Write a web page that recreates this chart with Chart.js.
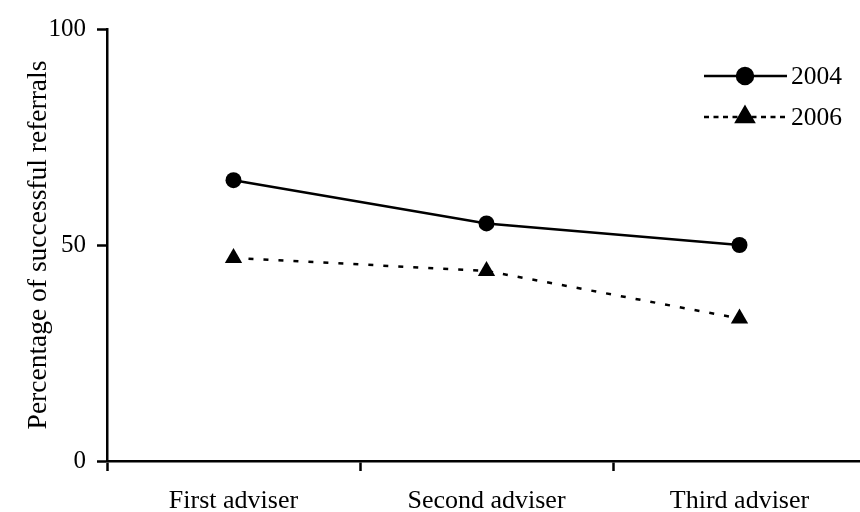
<!DOCTYPE html>
<html>
<head>
<meta charset="utf-8">
<script src="https://cdn.jsdelivr.net/npm/chart.js@4"></script>
<style>
  html, body { margin: 0; padding: 0; background: #fff; overflow: hidden; }
  #clip { width: 860px; height: 512px; overflow: hidden; }
  #wrap { width: 876px; height: 512px; position: relative; }
</style>
</head>
<body>
<div id="clip"><div id="wrap"><canvas id="referralChart"></canvas></div></div>
<script>
const categories = ['First adviser', 'Second adviser', 'Third adviser'];
const values2004 = [65, 55, 50];
const values2006 = [47, 44, 33];
const yTicks = [0, 50, 100];
const seriesNames = ['2004', '2006'];

const serif = '"Liberation Serif", "Times New Roman", serif';

// legend drawn by hand: line segment with marker in the middle, then the label
const lineLegend = {
    id: 'lineLegend',
    afterDraw(chart) {
        const ctx = chart.ctx;
        const rows = [
            { y: 76, dash: [], ds: chart.data.datasets[0] },
            { y: 117, dash: [5, 4.5], ds: chart.data.datasets[1] }
        ];
        ctx.save();
        rows.forEach(r => {
            ctx.strokeStyle = '#000';
            ctx.lineWidth = 2.5;
            ctx.setLineDash(r.dash);
            ctx.beginPath();
            ctx.moveTo(704, r.y);
            ctx.lineTo(787, r.y);
            ctx.stroke();
            ctx.setLineDash([]);
            Chart.helpers.drawPoint(ctx, {
                pointStyle: r.ds.pointStyle,
                radius: r.ds.pointRadius,
                borderWidth: 1
            }, 745, r.y);
            ctx.fillStyle = '#000';
            ctx.font = '25.5px ' + serif;
            ctx.textBaseline = 'middle';
            ctx.textAlign = 'left';
            ctx.fillText(r.ds.label, 791, r.y + 1);
        });
        ctx.restore();
    }
};

const ctx = document.getElementById('referralChart').getContext('2d');
new Chart(ctx, {
    type: 'line',
    data: {
        labels: categories,
        datasets: [
            {
                label: seriesNames[0],
                data: values2004,
                borderColor: '#000',
                backgroundColor: '#000',
                borderWidth: 2.5,
                pointStyle: 'circle',
                pointRadius: 8,
                pointBorderWidth: 0,
                tension: 0
            },
            {
                label: seriesNames[1],
                data: values2006,
                borderColor: '#000',
                backgroundColor: '#000',
                borderWidth: 2.5,
                borderDash: [5, 10],
                pointStyle: 'triangle',
                pointRadius: 10,
                pointBorderWidth: 0,
                tension: 0
            }
        ]
    },
    options: {
        responsive: true,
        maintainAspectRatio: false,
        animation: false,
        layout: { padding: { top: 29, right: 0, bottom: 0, left: 0 } },
        plugins: {
            legend: { display: false },
            tooltip: { enabled: false }
        },
        scales: {
            x: {
                type: 'category',
                offset: true,
                afterFit: (s) => { s.height = 51; },
                grid: {
                    offset: true,
                    drawOnChartArea: false,
                    drawTicks: true,
                    tickLength: 10,
                    tickWidth: 2.5,
                    tickColor: '#000'
                },
                border: { display: true, color: '#000', width: 2.5 },
                ticks: {
                    color: '#000',
                    font: { family: serif, size: 26 },
                    padding: 15,
                    maxRotation: 0
                }
            },
            y: {
                min: yTicks[0],
                max: yTicks[yTicks.length - 1],
                afterFit: (s) => { s.width = 107; },
                afterBuildTicks: (s) => { s.ticks = yTicks.map(v => ({ value: v })); },
                grid: {
                    drawOnChartArea: false,
                    drawTicks: true,
                    tickLength: 10,
                    tickWidth: 2.5,
                    tickColor: '#000'
                },
                border: { display: true, color: '#000', width: 2.5 },
                ticks: {
                    color: '#000',
                    font: { family: serif, size: 25 },
                    padding: 11
                },
                title: {
                    display: true,
                    text: 'Percentage of successful referrals',
                    color: '#000',
                    font: { family: serif, size: 27.5, weight: 'normal' },
                    padding: { top: 22, bottom: 0 }
                }
            }
        }
    },
    plugins: [lineLegend]
});
</script>
</body>
</html>
